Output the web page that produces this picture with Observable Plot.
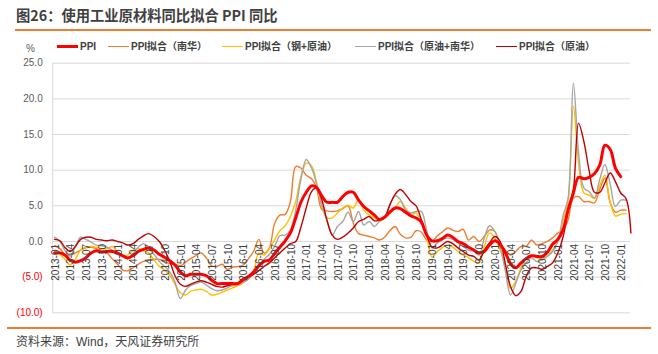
<!DOCTYPE html>
<html><head><meta charset="utf-8">
<script src="https://cdn.jsdelivr.net/npm/d3@7"></script>
<script src="https://cdn.jsdelivr.net/npm/@observablehq/plot@0.6"></script>
<style>
body{margin:0;background:#fff;}
#wrap{position:relative;width:658px;height:354px;overflow:hidden;background:#fff;font-family:"Liberation Sans",Arial,"Noto Sans CJK SC",sans-serif;}
#title{position:absolute;left:16px;top:5px;font-size:14.3px;font-weight:bold;color:#404040;font-family:"Noto Sans CJK SC",sans-serif;line-height:20px;white-space:nowrap;}
.hr{position:absolute;height:1.5px;background:#ED7D31;}
.item{position:absolute;top:40px;font-size:10px;font-weight:bold;color:#404040;line-height:14px;white-space:nowrap;}
.sw{display:inline-block;width:21px;vertical-align:middle;margin-right:2px;position:relative;top:-1px;}
#pct{position:absolute;left:26px;top:43px;font-size:10px;color:#595959;}
#foot{position:absolute;left:16px;top:334px;font-size:12px;color:#404040;line-height:16px;white-space:nowrap;font-family:"Liberation Sans",Arial,"Noto Sans CJK SC",sans-serif;}
#chart{position:absolute;left:0;top:52px;}
</style></head>
<body>
<div id="wrap">
  <div id="title">图26：使用工业原材料同比拟合 PPI 同比</div>
  <div class="hr" style="left:15px;width:636px;top:29px;"></div>
  <div id="pct">%</div>
  <div id="legend"></div>
  <div id="chart"></div>
  <div class="hr" style="left:7px;width:644px;top:327px;"></div>
  <div id="foot">资料来源：Wind，天风证券研究所</div>
</div>
<script>
// Series names and colours
const seriesNames = ["PPI", "PPI拟合（南华）", "PPI拟合（钢+原油）", "PPI拟合（原油+南华）", "PPI拟合（原油）"];
const seriesColors = ["#FF0000", "#ED7D31", "#FFC000", "#A5A5A5", "#C00000"];
const startMonth = "2013-01"; // monthly data from this month

// PPI YoY (%), 2013-01 .. 2022-01
const ppi = [
-1.6,-1.6,-1.9,-2.6,-2.9,-2.7,-2.3,-1.6,-1.3,-1.5,-1.4,-1.4,
-1.6,-2.0,-2.3,-2.0,-1.4,-1.1,-0.9,-1.2,-1.8,-2.2,-2.7,-3.3,
-4.3,-4.8,-4.6,-4.6,-4.6,-4.8,-5.4,-5.9,-5.9,-5.9,-5.9,-5.9,
-5.3,-4.9,-4.3,-3.4,-2.8,-2.6,-1.7,-0.8,0.1,1.2,3.3,5.5,
6.9,7.8,7.6,6.4,5.5,5.5,5.5,6.3,6.9,6.9,5.8,4.9,
4.3,3.7,3.1,3.4,4.1,4.7,4.6,4.1,3.6,3.3,2.7,0.9,
0.1,0.1,0.4,0.9,0.6,0.0,-0.3,-0.8,-1.2,-1.6,-1.4,-0.5,
0.1,-0.4,-1.5,-3.1,-3.7,-3.0,-2.4,-2.0,-2.1,-2.1,-1.5,-0.4,
0.3,1.7,4.4,6.8,9.0,8.8,9.0,9.5,10.7,13.5,12.9,10.3,
9.1];

// PPI拟合（南华）, 2013-01 .. 2022-02
const fitNanhua = [
-0.6,-1.0,-1.8,-2.0,-1.6,-1.2,-0.9,-0.8,-1.0,-1.2,-1.6,-2.4,
-3.2,-4.0,-4.1,-3.7,-3.2,-2.8,-2.6,-2.5,-2.5,-2.8,-3.1,-3.2,
-3.4,-2.9,-2.4,-2.0,-1.6,-2.3,-3.4,-3.5,-3.2,-3.9,-3.6,-3.5,
-3.3,-2.4,-1.4,0.3,-1.6,-0.9,2.5,3.7,3.8,5.6,10.5,10.3,
9.3,8.8,7.6,4.5,4.3,4.2,4.3,4.6,5.0,2.6,1.1,0.9,
0.7,0.5,0.2,0.6,1.5,2.1,1.0,0.5,0.6,1.5,1.3,0.2,
0.0,0.8,1.3,1.9,1.6,1.4,1.7,0.2,0.7,0.0,0.7,1.6,
1.4,-0.5,-1.2,-1.9,-1.4,-0.7,-0.7,0.2,-0.5,-0.3,0.0,0.5,
1.2,1.6,3.0,6.1,6.3,5.6,5.6,5.4,7.3,8.9,5.4,4.1,
4.4,4.4];

// PPI拟合（钢+原油）, 2013-01 .. 2022-02
const fitSteelOil = [
-1.4,-1.8,-2.5,-3.3,-2.5,-1.2,-0.8,-0.7,-0.8,-1.0,-1.0,-0.7,
-1.5,-2.1,-1.9,-1.3,-1.0,-1.3,-1.6,-2.6,-3.5,-4.0,-4.7,-6.0,
-7.2,-7.5,-7.0,-6.8,-6.7,-7.0,-7.5,-7.4,-7.1,-6.8,-6.5,-6.2,
-5.8,-5.0,-4.2,-1.6,-1.9,-1.0,0.2,1.5,2.2,3.5,5.6,9.1,
11.0,10.6,8.3,4.9,3.3,3.3,4.0,4.7,5.1,4.7,5.9,4.4,
3.7,3.3,2.8,3.3,4.0,4.7,5.6,4.7,3.7,4.0,2.8,0.7,
-2.2,-1.4,-0.9,-0.5,-0.8,-1.4,-1.9,-2.3,-2.8,-3.0,-0.7,1.2,
0.5,-1.2,-3.3,-6.6,-5.6,-3.7,-2.3,-1.9,-2.3,-2.3,-2.0,-1.2,
0.0,3.0,5.5,19.0,11.0,6.8,6.5,6.0,7.8,9.3,5.5,3.6,
3.8,3.9];

// PPI拟合（原油+南华）, 2013-01 .. 2022-02
const fitOilNanhua = [
0.6,0.0,-1.2,-2.0,-0.8,0.6,0.3,-0.1,-0.5,-0.6,-0.8,-1.2,
-1.8,-2.2,-2.4,-1.7,-0.8,-0.3,-1.0,-1.8,-2.8,-3.5,-4.3,-5.7,
-8.0,-6.8,-6.2,-5.9,-5.7,-6.1,-6.6,-6.9,-6.8,-6.5,-6.2,-6.0,
-5.7,-5.3,-4.4,-3.6,-2.5,-1.8,-0.7,0.8,0.9,1.6,4.4,8.7,
11.5,10.3,8.2,5.1,3.0,0.9,2.1,2.8,4.1,2.8,4.2,2.3,
2.8,2.1,2.8,3.5,5.1,6.4,5.9,4.4,4.0,4.2,4.2,1.6,
-0.9,-0.2,0.2,0.5,0.3,-0.2,-0.7,-1.2,-1.4,-1.9,0.5,2.2,
1.4,-0.7,-4.0,-7.5,-5.9,-4.0,-3.0,-2.3,-2.8,-2.6,-2.1,-1.4,
0.0,3.7,6.0,22.2,12.5,7.5,7.0,6.1,8.7,10.8,8.0,4.9,
5.8,5.8];

// PPI拟合（原油）, 2013-01 .. 2022-03
const fitOil = [
0.3,0.1,-0.8,-1.4,-0.7,0.3,0.6,0.6,0.3,0.2,0.1,0.2,
0.0,-0.2,-0.5,-0.3,0.3,0.8,1.1,0.7,0.0,-1.2,-2.8,-4.8,
-6.0,-6.3,-6.0,-5.7,-5.5,-5.7,-6.0,-6.3,-6.4,-6.2,-6.0,-5.8,
-5.5,-5.0,-4.6,-4.1,-3.5,-3.0,-2.3,-1.6,-0.9,-0.3,0.0,2.0,
4.7,7.0,7.5,5.9,3.0,0.9,0.3,0.6,1.2,1.9,2.8,3.1,
3.5,2.9,3.0,3.3,5.1,6.6,7.3,6.6,5.6,5.0,3.0,0.9,
-0.8,-0.9,-0.5,0.0,-0.3,-0.9,-1.4,-1.9,-2.1,-2.6,-1.2,-0.2,
0.7,0.0,-3.0,-6.3,-7.6,-7.0,-4.9,-3.7,-3.7,-3.9,-3.5,-3.0,
-1.6,0.7,4.4,7.3,16.6,14.0,10.0,6.9,6.9,8.2,9.6,8.4,
6.8,6.0,1.2];

// Axis ticks
const yTicks = [25, 20, 15, 10, 5, 0, -5, -10];
const xTickLabels = [
"2013-01","2013-04","2013-07","2013-10","2014-01","2014-04","2014-07","2014-10",
"2015-01","2015-04","2015-07","2015-10","2016-01","2016-04","2016-07","2016-10",
"2017-01","2017-04","2017-07","2017-10","2018-01","2018-04","2018-07","2018-10",
"2019-01","2019-04","2019-07","2019-10","2020-01","2020-04","2020-07","2020-10",
"2021-01","2021-04","2021-07","2021-10","2022-01"];

const parse = d3.utcParse("%Y-%m");
const start = parse(startMonth);
const allSeries = [ppi, fitNanhua, fitSteelOil, fitOilNanhua, fitOil];
const rows = [];
allSeries.forEach((arr, s) => arr.forEach((v, i) => rows.push({date: d3.utcMonth.offset(start, i), v, s})));

const fmtY = d => d < 0 ? `(${Math.abs(d).toFixed(1)})` : d.toFixed(1);
const xMin = new Date(Date.UTC(2012, 11, 21));
const xMax = new Date(Date.UTC(2022, 2, 1));
const gridEnd = new Date(Date.UTC(2022, 1, 26));

const drawOrder = [1, 2, 3, 4, 0];
const lineMarks = drawOrder.map(s => Plot.line(rows.filter(r => r.s === s), {
  x: "date", y: "v", stroke: seriesColors[s], strokeWidth: s === 0 ? 3 : 1.4,
  curve: "catmull-rom", strokeLinejoin: "round", strokeLinecap: "round"
}));

const chart = Plot.plot({
  width: 658, height: 270,
  marginLeft: 52.2, marginRight: 27.6, marginTop: 10.7, marginBottom: 9.7,
  x: {type: "utc", domain: [xMin, xMax], axis: null},
  y: {domain: [-10, 25], axis: null},
  style: {fontFamily: '"Liberation Sans", Arial, sans-serif', fontSize: "10px", background: "transparent", overflow: "visible"},
  marks: [
    Plot.ruleY(yTicks, {y: d => d, x1: xMin, x2: gridEnd, stroke: "#D9D9D9", strokeWidth: 1}),
    Plot.ruleX([xMin], {y1: -10, y2: 25, stroke: "#D9D9D9", strokeWidth: 1}),
    Plot.text(yTicks.filter(d => d >= 0), {x: xMin, y: d => d, text: fmtY, dx: -10, textAnchor: "end", fill: "#595959", fontSize: 10}),
    Plot.text(yTicks.filter(d => d < 0), {x: xMin, y: d => d, text: fmtY, dx: -10, textAnchor: "end", fill: "#FF0000", fontSize: 10}),
    ...lineMarks,
    Plot.text(xTickLabels, {x: d => parse(d), y: 0, text: d => d, rotate: -90, textAnchor: "end", lineAnchor: "middle", dy: 2.5, dx: 1, fill: "#404040", fontSize: 10})
  ]
});
document.getElementById("chart").appendChild(chart);

// Legend
const legendX = [57, 108, 222, 355, 496];
const legend = document.getElementById("legend");
seriesNames.forEach((name, s) => {
  const item = document.createElement("div");
  item.className = "item";
  item.style.left = legendX[s] + "px";
  const sw = document.createElement("span");
  sw.className = "sw";
  sw.style.height = (s === 0 ? 3 : 1.5) + "px";
  sw.style.background = seriesColors[s];
  item.appendChild(sw);
  item.appendChild(document.createTextNode(name));
  legend.appendChild(item);
});
</script>
</body></html>
